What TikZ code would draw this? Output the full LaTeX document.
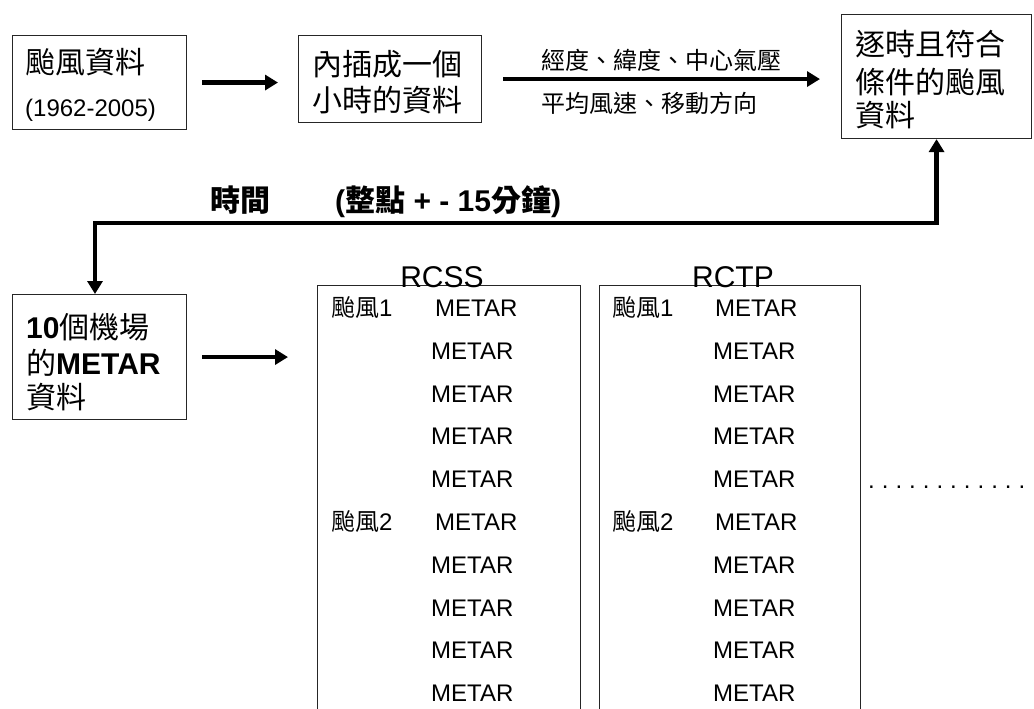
\documentclass[tikz,border=0pt]{standalone}
\usepackage{fontspec}
\setmainfont{Liberation Sans}
\newfontfamily\cjk{Noto Sans CJK TC}
\usetikzlibrary{arrows.meta}
\newcommand{\zh}[1]{{\cjk #1}}
\newcommand{\szL}{\fontsize{30}{36}\selectfont}
\newcommand{\szS}{\fontsize{24}{29}\selectfont}
\newcommand{\dotrow}{.\kern7pt.\kern7pt.\kern7pt.\kern7pt.\kern7pt.\kern7pt.\kern7pt.\kern7pt.\kern7pt.\kern7pt.\kern7pt.}
\begin{document}
\begin{tikzpicture}[x=1pt,y=-1pt,
  box/.style={draw=black!85, line width=1.1pt, inner sep=0pt, anchor=north west},
  txtL/.style={inner sep=0pt, anchor=base west, font=\szL},
  txtS/.style={inner sep=0pt, anchor=base west, font=\szS},
  flow/.style={line width=4.5pt, -{Triangle[length=13pt,width=15pt]}},
  dflow/.style={line width=4.5pt, {Triangle[length=13pt,width=15pt]}-{Triangle[length=13pt,width=15pt]}},
]
\useasboundingbox (0,0) rectangle (1034,709);
\fill[white] (0,0) rectangle (1034,709);

% boxes
\node[box, minimum width=174, minimum height=94] (b1) at (12,35) {};
\node[box, minimum width=183, minimum height=87] (b2) at (298,35) {};
\node[box, minimum width=190, minimum height=124] (b3) at (841,14) {};
\node[box, minimum width=174, minimum height=125] (b4) at (12,294) {};
\begin{scope}
\clip (0,0) rectangle (1034,709);
\node[box, minimum width=263, minimum height=450] (rcss) at (317,285) {};
\node[box, minimum width=261, minimum height=450] (rctp) at (599,285) {};
\end{scope}

% box texts
\node[txtL] (t1a) at (25,74) {\zh{颱風資料}};
\node[txtS] (t1b) at (25,117) {(1962-2005)};
\node[txtL] (t2a) at (312,76) {\zh{內插成一個}};
\node[txtL] (t2b) at (312,111) {\zh{小時的資料}};
\node[txtL] (t3a) at (855,56) {\zh{逐時且符合}};
\node[txtL] (t3b) at (855,93) {\zh{條件的颱風}};
\node[txtL] (t3c) at (855,126) {\zh{資料}};
\node[txtL] (t4a) at (26,338) {\textbf{10}\zh{個機場}};
\node[txtL] (t4b) at (26,374) {\zh{的}\textbf{METAR}};
\node[txtL] (t4c) at (26,408) {\zh{資料}};

% arrow labels
\node[txtS] (l1) at (541,70) {\zh{經度、緯度、中心氣壓}};
\node[txtS] (l2) at (541,113) {\zh{平均風速、移動方向}};
\node[txtL, font=\szL\bfseries] (l3) at (210,211) {\zh{時間}};
\node[txtL, font=\szL\bfseries] (l4) at (335,211) {(\zh{整點} + - 15\zh{分鐘})};

% connectors
\draw[flow] ([xshift=15pt]b1.east) -- ([xshift=-20pt]b2.west |- b1.east);
\draw[flow] ([xshift=21pt]b2.east) -- ([xshift=-21pt]b3.west |- b2.east);
\coordinate (fb) at (95,223);
\draw[dflow, line join=miter] (b3.south) |- (fb) -- (fb |- b4.north);
\draw[flow] ([xshift=15pt]b4.east) -- ([xshift=-29pt]rcss.west |- b4.east);

% titles
\node[inner sep=0pt, anchor=base, font=\szL] (h1) at (442,287) {RCSS};
\node[inner sep=0pt, anchor=base, font=\szL] (h2) at (733,287) {RCTP};

% rows
\node[txtS] (s1) at (331,316.5) {\zh{颱風}1};
\node[txtS] (s2) at (331,530.5) {\zh{颱風}2};
\node[txtS] (p1) at (612,316.5) {\zh{颱風}1};
\node[txtS] (p2) at (612,530.5) {\zh{颱風}2};
\foreach \k/\xa/\xb in {0/435/715,1/431/713,2/431/713,3/431/713,4/431/713,5/435/715,6/431/713,7/431/713,8/431/713,9/431/713}{
  \node[txtS] (sm\k) at (\xa,{316.5+42.8*\k}) {METAR};
  \node[txtS] (pm\k) at (\xb,{316.5+42.8*\k}) {METAR};
}
\node[txtS] (dots) at (868,488) {\dotrow};
\end{tikzpicture}
\end{document}
